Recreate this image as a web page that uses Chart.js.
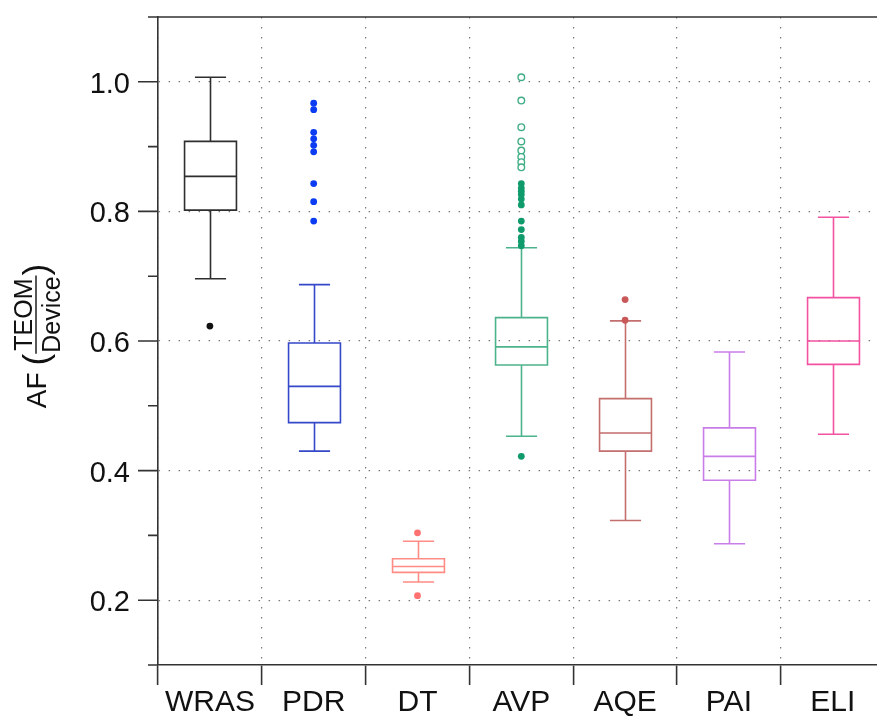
<!DOCTYPE html>
<html>
<head>
<meta charset="utf-8">
<script src="https://cdn.jsdelivr.net/npm/chart.js@4"></script>
<style>
  html, body { margin: 0; padding: 0; background: #fff; overflow: hidden; }
  #wrap { position: absolute; left: 0; top: 0; width: 890px; height: 716px; }
</style>
</head>
<body>
<div id="wrap"><canvas id="boxChart" width="890" height="716"></canvas></div>
<script>
// Sites and box statistics
const sites = ['WRAS', 'PDR', 'DT', 'AVP', 'AQE', 'PAI', 'ELI'];
const whiskerLow  = [0.696, 0.430, 0.228, 0.453, 0.323, 0.287, 0.456];
const q1          = [0.802, 0.474, 0.243, 0.563, 0.430, 0.385, 0.564];
const median      = [0.854, 0.530, 0.252, 0.591, 0.458, 0.422, 0.600];
const q3          = [0.908, 0.597, 0.264, 0.636, 0.511, 0.466, 0.667];
const whiskerHigh = [1.007, 0.687, 0.291, 0.744, 0.631, 0.583, 0.791];

// Outliers (filled dots) per site
const outliers = [
  [0.623],
  [0.967, 0.957, 0.922, 0.912, 0.902, 0.892, 0.843, 0.815, 0.785],
  [0.304, 0.207],
  [0.843, 0.836, 0.831, 0.826, 0.819, 0.810, 0.785, 0.772, 0.760, 0.754, 0.747, 0.422],
  [0.664, 0.632],
  [],
  []
];
// Far outliers (open circles)
const farOutliers = [
  [], [], [],
  [1.007, 0.971, 0.930, 0.908, 0.894, 0.884, 0.876, 0.868],
  [], [], []
];

// Y axis ticks
const yTickValues = [0.1, 0.2, 0.3, 0.4, 0.5, 0.6, 0.7, 0.8, 0.9, 1.0, 1.1];
const yMajor = [0.2, 0.4, 0.6, 0.8, 1.0];

// Styles
const boxColors = ['#2e2e2e', '#3548c8', '#ff8c85', '#4db38c', '#c46e6e', '#c97de9', '#f2529f'];
const dotColors = ['#111111', '#0b3cf2', '#ff7272', '#0f9b6b', '#c95858', '#c97de9', '#f2529f'];
const farColor = '#3fae85';
const FONT = '"Liberation Sans", Arial, sans-serif';

const isMajor = v => yMajor.some(m => Math.abs(m - v) < 1e-6);

// Build outlier datasets
const datasets = [];
sites.forEach((s, i) => {
  if (outliers[i].length) {
    datasets.push({
      data: outliers[i].map(v => ({ x: s, y: v })),
      pointRadius: 3.4,
      pointBackgroundColor: dotColors[i],
      pointBorderWidth: 0
    });
  }
  if (farOutliers[i].length) {
    datasets.push({
      data: farOutliers[i].map(v => ({ x: s, y: v })),
      pointRadius: 3.3,
      pointBackgroundColor: '#ffffff',
      pointBorderColor: farColor,
      pointBorderWidth: 1.4
    });
  }
});

// Boxes, whiskers, y tick marks, frame and y title
const boxPlugin = {
  id: 'boxes',
  beforeDatasetsDraw(chart) {
    const { ctx, scales: { x, y } } = chart;
    const step = x.getPixelForValue(1) - x.getPixelForValue(0);
    const bw = step * 0.25, cw = step * 0.15;
    ctx.save();
    ctx.lineWidth = 1.6;
    sites.forEach((s, i) => {
      const cx = Math.round(x.getPixelForValue(i)) + 0.5;
      const pl = y.getPixelForValue(whiskerLow[i]);
      const p1 = y.getPixelForValue(q1[i]);
      const pm = y.getPixelForValue(median[i]);
      const p3 = y.getPixelForValue(q3[i]);
      const ph = y.getPixelForValue(whiskerHigh[i]);
      ctx.strokeStyle = boxColors[i];
      ctx.beginPath();
      ctx.rect(cx - bw, p3, 2 * bw, p1 - p3);
      ctx.moveTo(cx - bw, pm); ctx.lineTo(cx + bw, pm);
      ctx.moveTo(cx, p3); ctx.lineTo(cx, ph);
      ctx.moveTo(cx, p1); ctx.lineTo(cx, pl);
      ctx.moveTo(cx - cw, ph); ctx.lineTo(cx + cw, ph);
      ctx.moveTo(cx - cw, pl); ctx.lineTo(cx + cw, pl);
      ctx.stroke();
    });
    ctx.restore();
  },
  afterDraw(chart) {
    const { ctx, chartArea: a, scales: { y } } = chart;
    ctx.save();
    ctx.strokeStyle = '#333';
    ctx.lineWidth = 1.6;
    ctx.beginPath();
    yTickValues.forEach(v => {
      const py = y.getPixelForValue(v);
      const len = isMajor(v) ? 20 : 10;
      ctx.moveTo(a.left - len, py);
      ctx.lineTo(a.left, py);
    });
    // top frame line
    ctx.moveTo(a.left, a.top);
    ctx.lineTo(a.right, a.top);
    ctx.stroke();

    // y axis title: AF (TEOM / Device)
    ctx.translate(46, 336);
    ctx.rotate(-Math.PI / 2);
    ctx.fillStyle = '#111';
    ctx.textBaseline = 'alphabetic';
    ctx.font = '28px ' + FONT;
    const afW = ctx.measureText('AF').width;
    ctx.font = '25px ' + FONT;
    const tW = ctx.measureText('TEOM').width;
    const dW = ctx.measureText('Device').width;
    const fracW = Math.max(tW, dW) + 2;
    ctx.font = '35px ' + FONT;
    const pW = ctx.measureText('(').width;
    const gap = 7;
    const total = afW + gap + pW + fracW + pW;
    let lx = -total / 2;
    ctx.font = '28px ' + FONT;
    ctx.fillText('AF', lx, 0);
    lx += afW + gap;
    ctx.font = '35px ' + FONT;
    ctx.fillText('(', lx, 2);
    lx += pW;
    ctx.font = '25px ' + FONT;
    ctx.fillText('TEOM', lx + (fracW - tW) / 2, -14);
    ctx.fillText('Device', lx + (fracW - dW) / 2, 14);
    ctx.beginPath();
    ctx.lineWidth = 1.4;
    ctx.strokeStyle = '#111';
    ctx.moveTo(lx, -10);
    ctx.lineTo(lx + fracW, -10);
    ctx.stroke();
    lx += fracW;
    ctx.font = '35px ' + FONT;
    ctx.fillText(')', lx, 2);
    ctx.restore();
  }
};

new Chart(document.getElementById('boxChart'), {
  type: 'scatter',
  data: { labels: sites, datasets: datasets },
  options: {
    responsive: false,
    devicePixelRatio: 1,
    animation: false,
    layout: { padding: { top: 17, right: 5, left: 0, bottom: 0 } },
    plugins: { legend: { display: false }, tooltip: { enabled: false } },
    scales: {
      x: {
        type: 'category',
        labels: sites,
        offset: true,
        grid: {
          offset: true,
          color: '#777',
          lineWidth: 1.2,
          drawTicks: true,
          tickLength: 20,
          tickColor: '#333',
          tickWidth: 1.6
        },
        border: { display: true, color: '#333', width: 1.6, dash: [1.5, 8.5] },
        ticks: {
          color: '#111',
          font: { family: FONT, size: 30 },
          padding: 0,
          maxRotation: 0,
          autoSkip: false
        },
        afterFit(scale) {
          scale.height = 51;
          scale.paddingLeft = 0; scale.paddingRight = 0;
        }
      },
      y: {
        min: 0.1,
        max: 1.1,
        afterBuildTicks(scale) { scale.ticks = yTickValues.map(v => ({ value: v })); },
        grid: {
          color: c => (c.tick && isMajor(c.tick.value)) ? '#777' : 'rgba(0,0,0,0)',
          lineWidth: 1.2,
          drawTicks: false
        },
        border: { display: true, color: '#333', width: 1.6, dash: [1.5, 8.5] },
        ticks: {
          color: '#111',
          font: { family: FONT, size: 29 },
          padding: 28,
          labelOffset: 3,
          autoSkip: false,
          callback: v => isMajor(v) ? v.toFixed(1) : ''
        },
        afterFit(scale) {
          scale.width = 158;
          scale.paddingTop = 0; scale.paddingBottom = 0;
        }
      }
    }
  },
  plugins: [boxPlugin]
});
</script>
</body>
</html>
